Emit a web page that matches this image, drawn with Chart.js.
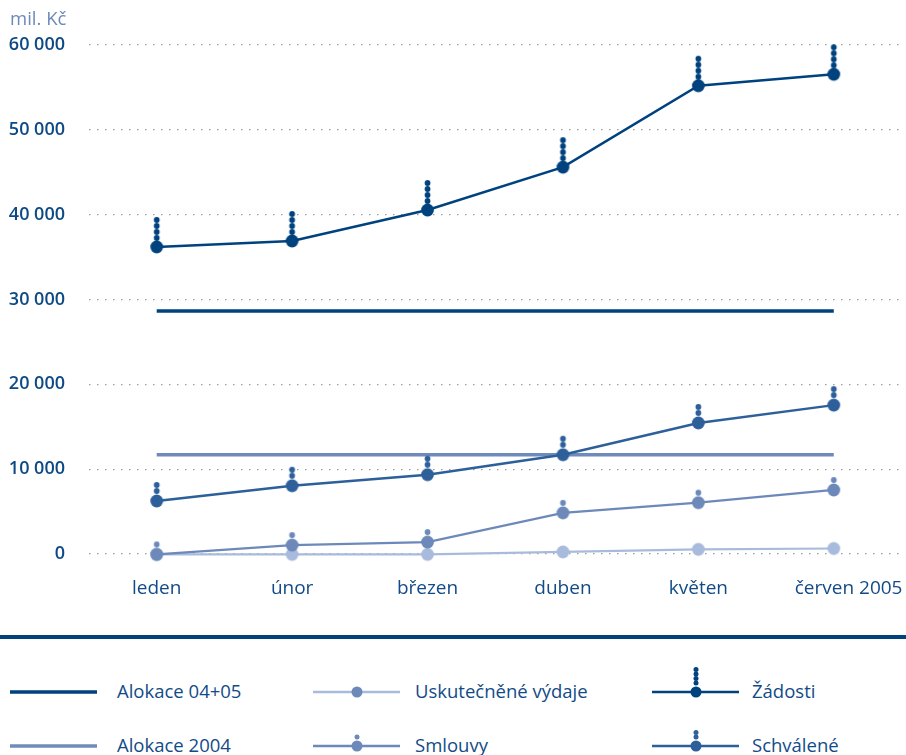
<!DOCTYPE html>
<html><head><meta charset="utf-8">
<script src="https://cdn.jsdelivr.net/npm/chart.js@4"></script>
<style>
html,body{margin:0;padding:0;background:#fff;}
body{width:906px;height:755px;position:relative;overflow:hidden;font-family:"Open Sans",sans-serif;}
#wrap{position:absolute;left:0;top:0;width:906px;height:614px;overflow:hidden;}
#unit{position:absolute;left:10px;top:5px;font-size:18.5px;color:#6c89ba;}
#sep{position:absolute;left:0;top:635px;width:906px;height:4px;background:#00427e;}
.lg{position:absolute;font-size:18.5px;color:#124b87;line-height:22px;white-space:nowrap;}
svg.ic{position:absolute;}
</style></head><body>
<div id="wrap"><canvas id="c" width="911" height="614"></canvas></div>
<div id="unit">mil. Kč</div>
<div id="sep"></div>
<div id="legend"></div>
<script>
const categories = ['leden','únor','březen','duben','květen','červen 2005'];
const zadosti = [36200, 36900, 40550, 45600, 55200, 56550];
const schvalene = [6250, 8050, 9350, 11700, 15450, 17550];
const smlouvy = [-50, 1050, 1400, 4850, 6050, 7550];
const uskutecnene = [-50, -50, -50, 250, 550, 650];
const alokace0405 = [28650, 28650, 28650, 28650, 28650, 28650];
const alokace2004 = [11700, 11700, 11700, 11700, 11700, 11700];
const yTicks = [0, 10000, 20000, 30000, 40000, 50000, 60000];

const C_NAVY = '#00427e', C_SCH = '#2d5f9a', C_SML = '#6c89ba', C_USK = '#a9bbdc', C_ALO4 = '#6f8bbb';

function marker(color, nSmall, bigR, smallR, first, gap){
  const top = nSmall ? first + (nSmall-1)*gap + smallR + 1 : bigR + 1;
  const half = Math.ceil(Math.max(top, bigR + 1));
  const w = Math.ceil(2*bigR + 2);
  const cv = document.createElement('canvas');
  cv.width = w; cv.height = half*2;
  const g = cv.getContext('2d');
  g.fillStyle = color;
  g.beginPath(); g.arc(w/2, half, bigR, 0, Math.PI*2); g.fill();
  for(let i=0;i<nSmall;i++){
    g.beginPath(); g.arc(w/2, half - first - i*gap, smallR, 0, Math.PI*2); g.fill();
  }
  return cv;
}

const mkZad = marker(C_NAVY, 4, 6.4, 2.9, 9, 6);
const mkSch = marker(C_SCH, 2, 6.4, 2.9, 10, 6);
const mkSml = marker(C_SML, 1, 6.4, 2.9, 10, 6);
const mkUsk = marker(C_USK, 0, 6.4, 2.9, 10, 6);

function lineDs(label, data, color, width, pt){
  return {label, data, borderColor: color, backgroundColor: color, borderWidth: width,
    pointStyle: pt || false, pointRadius: pt ? 7 : 0, pointHoverRadius: pt ? 7 : 0,
    tension: 0, clip: false, fill: false};
}

new Chart(document.getElementById('c'), {
  type: 'line',
  data: {
    labels: categories,
    datasets: [
      lineDs('Žádosti', zadosti, C_NAVY, 2.5, mkZad),
      lineDs('Schválené', schvalene, C_SCH, 2.5, mkSch),
      lineDs('Smlouvy', smlouvy, C_SML, 2.2, mkSml),
      lineDs('Uskutečněné výdaje', uskutecnene, C_USK, 2.2, mkUsk),
      lineDs('Alokace 04+05', alokace0405, C_NAVY, 3.5, null),
      lineDs('Alokace 2004', alokace2004, C_ALO4, 3.5, null)
    ]
  },
  options: {
    responsive: false, animation: false, devicePixelRatio: 1,
    layout: {padding: {top: 45, right: 0, left: 0, bottom: 0}},
    plugins: {legend: {display: false}, tooltip: {enabled: false}},
    scales: {
      x: {
        offset: true,
        grid: {display: false, drawTicks: false},
        border: {display: false},
        ticks: {color: '#124b87', font: {family: 'Open Sans', size: 19}, padding: 23, maxRotation: 0, autoSkip: false,
          callback: function(v){ const t = this.getLabelForValue(v); return t.indexOf('2005') >= 0 ? '\u00a0'.repeat(6) + t : t; }},
        afterFit: s => { s.height = 60; s.paddingLeft = 0; s.paddingRight = 0; }
      },
      y: {
        min: 0, max: 60000,
        afterBuildTicks: s => { s.ticks = yTicks.map(v => ({value: v})); },
        grid: {color: '#9c9c9c', lineWidth: 1.2, drawTicks: false},
        border: {display: false, dash: [1.5, 6.5]},
        ticks: {color: '#0d4a85', font: {family: 'Open Sans', size: 18, weight: '600'}, padding: 24,
          callback: v => String(v).replace(/\B(?=(\d{3})+(?!\d))/g, ' ')},
        afterFit: s => { s.width = 89; }
      }
    }
  }
});

// HTML legend
const legendItems = [
  {label: 'Alokace 04+05', col: 0, row: 0, line: C_NAVY, dot: null, n: 0},
  {label: 'Alokace 2004', col: 0, row: 1, line: C_ALO4, dot: null, n: 0},
  {label: 'Uskutečněné výdaje', col: 1, row: 0, line: C_USK, dot: C_SML, n: 0},
  {label: 'Smlouvy', col: 1, row: 1, line: C_SML, dot: C_SML, n: 1},
  {label: 'Žádosti', col: 2, row: 0, line: C_NAVY, dot: C_NAVY, n: 4},
  {label: 'Schválené', col: 2, row: 1, line: C_SCH, dot: C_SCH, n: 2}
];
const colIcon = [10, 313, 652], colText = [117, 415, 752], rowY = [692, 746];
const lg = document.getElementById('legend');
legendItems.forEach(it => {
  const x0 = colIcon[it.col], y = rowY[it.row];
  let svg = `<svg class="ic" width="90" height="40" style="left:${x0-1}px;top:${y-28}px">`;
  svg += `<line x1="1" y1="28" x2="88" y2="28" stroke="${it.line}" stroke-width="${it.dot ? 2.5 : 3.5}"/>`;
  if (it.dot) {
    svg += `<circle cx="45" cy="28" r="5.5" fill="${it.dot}"/>`;
    for (let i = 0; i < it.n; i++) svg += `<circle cx="45" cy="${28 - 9 - i*4.5}" r="2.5" fill="${it.dot}"/>`;
  }
  svg += '</svg>';
  lg.insertAdjacentHTML('beforeend', svg);
  lg.insertAdjacentHTML('beforeend', `<div class="lg" style="left:${colText[it.col]}px;top:${y-12}px">${it.label}</div>`);
});
</script>
</body></html>
